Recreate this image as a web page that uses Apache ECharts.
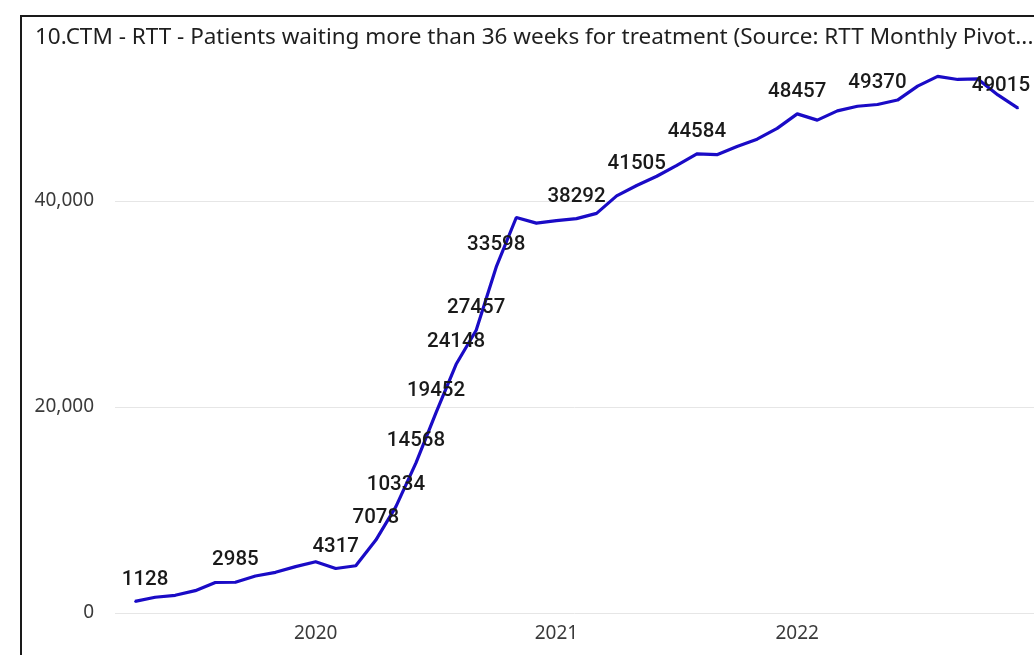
<!DOCTYPE html>
<html>
<head>
<meta charset="utf-8">
<style>
  html, body { margin: 0; padding: 0; background: #fff; }
  #chart { width: 1034px; height: 655px; }
</style>
<script src="https://cdn.jsdelivr.net/npm/echarts@6/dist/echarts.min.js"></script>
</head>
<body>
<div id="chart"></div>
<script>
const months = [
  '2019-04', '2019-05', '2019-06', '2019-07', '2019-08', '2019-09', '2019-10', '2019-11', '2019-12',
  '2020-01', '2020-02', '2020-03', '2020-04', '2020-05', '2020-06', '2020-07', '2020-08', '2020-09',
  '2020-10', '2020-11', '2020-12', '2021-01', '2021-02', '2021-03', '2021-04', '2021-05', '2021-06',
  '2021-07', '2021-08', '2021-09', '2021-10', '2021-11', '2021-12', '2022-01', '2022-02', '2022-03',
  '2022-04', '2022-05', '2022-06', '2022-07', '2022-08', '2022-09', '2022-10', '2022-11', '2022-12'
];
const waiting36 = [
  1128, 1530, 1720, 2170, 2960, 2985, 3590, 3950, 4500,
  4980, 4317, 4590, 7078, 10334, 14568, 19452, 24148, 27457,
  33598, 38400, 37850, 38100, 38292, 38800, 40500, 41505, 42400,
  43450, 44584, 44500, 45300, 46000, 47050, 48457, 47850, 48750,
  49200, 49370, 49800, 51150, 52100, 51800, 51850, 50300, 49015
];
// months that carry a data label
const labelledMonths = ['2019-04', '2019-09', '2020-02', '2020-04', '2020-05', '2020-06', '2020-07',
  '2020-08', '2020-09', '2020-10', '2021-02', '2021-05', '2021-08', '2022-01', '2022-05', '2022-12'];
const yTicks = [0, 20000, 40000];

const titleText = '10.CTM - RTT - Patients waiting more than 36 weeks for treatment (Source: RTT Monthly Pivot...';

const chart = echarts.init(document.getElementById('chart'));

const points = months.map((m, i) => {
  const item = { value: [i, waiting36[i]] };
  if (labelledMonths.includes(m)) {
    item.label = { show: true };
    // keep edge labels inside the plot like the original
    if (i === 0) item.label.offset = [10, 0];
    if (i === months.length - 1) item.label.offset = [-17, 0];
  }
  return item;
});

const option = {
  animation: false,
  title: {
    text: titleText,
    left: 30,
    top: 21,
    textStyle: { fontFamily: 'Noto Sans', fontSize: 22.5, fontWeight: 'normal', color: '#1f1f1f' }
  },
  graphic: [{
    type: 'rect',
    shape: { x: 21, y: 16, width: 1200, height: 800 },
    style: { fill: 'none', stroke: '#1a1a1a', lineWidth: 2 },
    silent: true
  }],
  grid: { left: 115, right: 0, top: 36.2, bottom: 42 },
  xAxis: {
    type: 'value',
    min: -1,
    max: 44.8,
    interval: 1,
    axisLine: { show: false },
    axisTick: { show: false },
    splitLine: { show: false },
    axisLabel: {
      margin: 11,
      fontFamily: 'Noto Sans',
      fontSize: 19,
      color: '#3a3a3a',
      showMaxLabel: false,
      formatter: v => {
        const m = months[v];
        return m && m.endsWith('-01') ? m.slice(0, 4) : '';
      }
    }
  },
  yAxis: {
    type: 'value',
    min: 0,
    max: 56000,
    interval: 20000,
    axisLine: { show: false },
    axisTick: { show: false },
    splitLine: { showMaxLine: false, lineStyle: { color: '#e6e6e6', width: 1 } },
    axisLabel: {
      margin: 21,
      fontFamily: 'Noto Sans',
      fontSize: 19,
      color: '#3a3a3a',
      showMaxLabel: false,
      formatter: v => yTicks.includes(v) ? v.toLocaleString('en-US') : ''
    }
  },
  series: [{
    type: 'line',
    data: points,
    symbol: 'circle',
    symbolSize: 2,
    showSymbol: true,
    itemStyle: { color: '#1a0bc6' },
    lineStyle: { color: '#1a0bc6', width: 3.2 },
    label: {
      show: false,
      position: 'top',
      distance: 10.5,
      fontFamily: 'Roboto',
      fontWeight: 500,
      fontSize: 20.5,
      color: '#1a1a1a'
    }
  }]
};

chart.setOption(option);
</script>
</body>
</html>
